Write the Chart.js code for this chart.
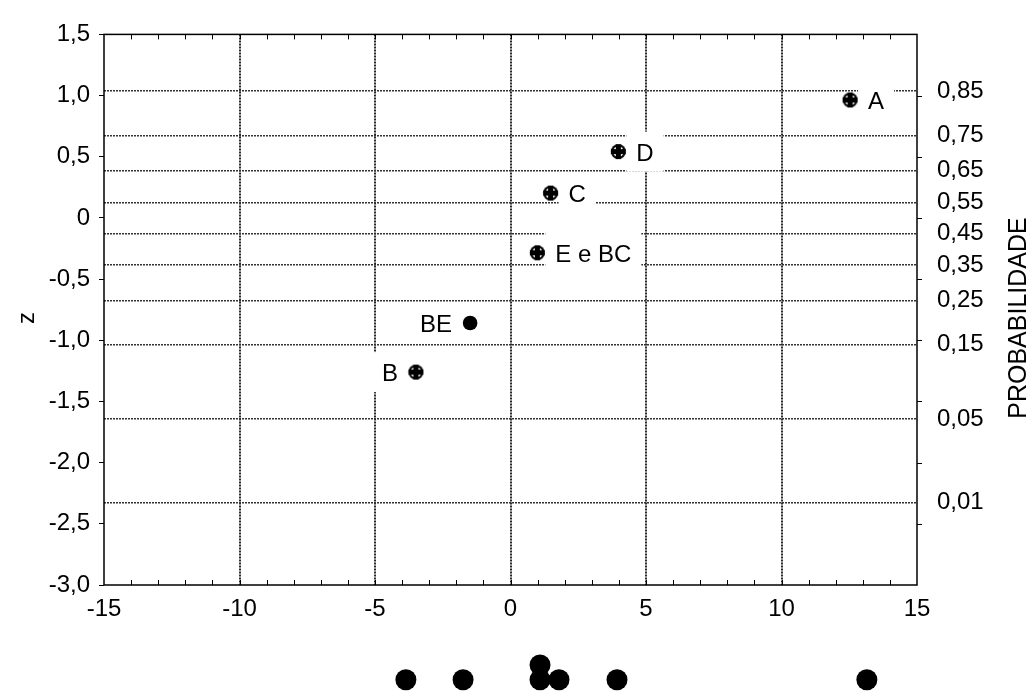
<!DOCTYPE html>
<html>
<head>
<meta charset="utf-8">
<script src="https://cdn.jsdelivr.net/npm/chart.js@4"></script>
<style>
html, body { margin: 0; padding: 0; background: #fff; overflow: hidden; }
#wrap { position: relative; width: 1031px; height: 693px; overflow: hidden; }
#main { position: absolute; left: 0; top: 0; }
#dots { position: absolute; left: 0; top: 625px; }
</style>
</head>
<body>
<div id="wrap">
  <canvas id="main" width="1031" height="693"></canvas>
  <canvas id="dots" width="1031" height="80"></canvas>
</div>
<script>
var effectNames = ['A', 'D', 'C', 'E e BC', 'BE', 'B'];
var effectX = [12.53, 3.98, 1.48, 0.99, -1.49, -3.49];
var effectZ = [0.964, 0.542, 0.203, -0.285, -0.859, -1.26];
var labelSide = ['right', 'right', 'right', 'right', 'left', 'left'];
var markerType = ['cross', 'cross', 'cross', 'cross', 'dot', 'cross'];

var xTicks = [-15, -10, -5, 0, 5, 10, 15];
var probLabels = ['0,85', '0,75', '0,65', '0,55', '0,45', '0,35', '0,25', '0,15', '0,05', '0,01'];
var probZ = [1.036, 0.674, 0.385, 0.126, -0.126, -0.385, -0.674, -1.036, -1.645, -2.326];

var dotX = [-3.86, -1.75, 1.09, 1.09, 1.79, 3.93, 13.15];
var dotLevel = [1, 1, 1, 2, 1, 1, 1];

var FONT = '"Liberation Sans", Arial, sans-serif';

// black disc with a plus inside, small white gaps in each quarter
function makeCross() {
  var c = document.createElement('canvas');
  c.width = 17;
  c.height = 17;
  var g = c.getContext('2d');
  g.fillStyle = '#000';
  g.beginPath(); g.arc(8.5, 8.5, 7.6, 0, Math.PI * 2); g.fill();
  g.fillStyle = '#fff';
  g.beginPath(); g.arc(8.5, 8.5, 5.4, 0, Math.PI * 2); g.fill();
  g.fillStyle = '#000';
  g.fillRect(1, 6, 15, 5);
  g.fillRect(6, 1, 5, 15);
  return c;
}
var crossImg = makeCross();

function fmt(v) {
  if (v === 0) return '0';
  return v.toFixed(1).replace('.', ',');
}

var decor = {
  id: 'decor',
  beforeDatasetsDraw: function (chart) {
    var ctx = chart.ctx;
    var meta = chart.getDatasetMeta(0);
    ctx.save();
    ctx.font = '24px ' + FONT;
    ctx.textBaseline = 'alphabetic';
    meta.data.forEach(function (pt, i) {
      var w = ctx.measureText(effectNames[i]).width;
      var tx = labelSide[i] === 'right' ? pt.x + 18 : pt.x - 18 - w;
      ctx.fillStyle = '#fff';
      ctx.fillRect(tx - 10, pt.y - 20, w + 20, 40);
      ctx.fillStyle = '#000';
      ctx.fillText(effectNames[i], tx, pt.y + 9);
    });
    ctx.restore();
  },
  afterDraw: function (chart) {
    var ctx = chart.ctx;
    var a = chart.chartArea;
    var xs = chart.scales.x;
    var ys = chart.scales.y;
    ctx.save();
    ctx.strokeStyle = '#000';
    ctx.lineWidth = 1.5;
    ctx.strokeRect(a.left, a.top, a.right - a.left, a.bottom - a.top);

    ctx.lineWidth = 1;
    ctx.beginPath();
    for (var v = -14; v <= 14; v++) {
      var px = Math.round(xs.getPixelForValue(v)) + 0.5;
      ctx.moveTo(px, a.bottom); ctx.lineTo(px, a.bottom - 5);
      ctx.moveTo(px, a.top); ctx.lineTo(px, a.top + 5);
    }
    for (var z = 1; z >= -2.5; z -= 0.5) {
      var py = Math.round(ys.getPixelForValue(z)) + 0.5;
      ctx.moveTo(a.right, py); ctx.lineTo(a.right + 5, py);
    }
    ctx.stroke();

    ctx.fillStyle = '#000';
    ctx.textAlign = 'center';
    ctx.textBaseline = 'middle';
    ctx.font = '24px ' + FONT;
    ctx.translate(27, 318);
    ctx.rotate(-Math.PI / 2);
    ctx.fillText('z', 0, 0);
    ctx.rotate(Math.PI / 2);
    ctx.translate(1019 - 27, 0);
    ctx.rotate(-Math.PI / 2);
    ctx.font = '25px ' + FONT;
    ctx.fillText('PROBABILIDADE', 0, 0);
    ctx.restore();
  }
};

var tickFont = { family: FONT, size: 24 };

new Chart(document.getElementById('main'), {
  type: 'scatter',
  data: {
    datasets: [{
      data: effectX.map(function (x, i) { return { x: x, y: effectZ[i] }; }),
      pointStyle: function (c) { return markerType[c.dataIndex] === 'dot' ? 'circle' : crossImg; },
      pointRadius: 7.3,
      backgroundColor: '#000',
      borderColor: '#000',
      borderWidth: 0
    }]
  },
  options: {
    responsive: false,
    animation: false,
    events: [],
    devicePixelRatio: 1,
    layout: { padding: { top: 23, left: 0, right: 0, bottom: 0 } },
    plugins: { legend: { display: false }, tooltip: { enabled: false } },
    scales: {
      x: {
        type: 'linear',
        min: -15,
        max: 15,
        afterBuildTicks: function (s) { s.ticks = xTicks.map(function (v) { return { value: v }; }); },
        afterFit: function (s) { s.height = 108; },
        ticks: { color: '#000', font: tickFont, padding: 10, maxRotation: 0 },
        grid: {
          drawTicks: false,
          lineWidth: 2,
          color: function (c) { return Math.abs(c.tick.value) === 15 ? 'rgba(0,0,0,0)' : '#2a2a2a'; }
        },
        border: { display: false, dash: [2, 1] }
      },
      y: {
        type: 'linear',
        position: 'left',
        min: -3,
        max: 1.5,
        afterFit: function (s) { s.width = 104; },
        ticks: { stepSize: 0.5, color: '#000', font: tickFont, padding: 9, callback: function (v) { return fmt(v); } },
        grid: { drawOnChartArea: false, drawTicks: true, tickLength: 5, tickColor: '#000', tickWidth: 1 },
        border: { display: false }
      },
      yR: {
        type: 'linear',
        position: 'right',
        min: -3,
        max: 1.5,
        afterBuildTicks: function (s) { s.ticks = probZ.map(function (v) { return { value: v }; }); },
        afterFit: function (s) { s.width = 114; },
        ticks: {
          color: '#000',
          font: tickFont,
          padding: 20,
          autoSkip: false,
          callback: function (v, i) { return probLabels[i]; }
        },
        grid: { drawTicks: false, lineWidth: 1.5, color: '#333' },
        border: { display: false, dash: [2, 1] }
      }
    }
  },
  plugins: [decor]
});

new Chart(document.getElementById('dots'), {
  type: 'scatter',
  data: {
    datasets: [{
      data: dotX.map(function (x, i) { return { x: x, y: dotLevel[i] }; }),
      pointRadius: 10.5,
      backgroundColor: '#000',
      borderWidth: 0,
      clip: false
    }]
  },
  options: {
    responsive: false,
    animation: false,
    events: [],
    devicePixelRatio: 1,
    layout: { padding: { top: 0, left: 104, right: 114, bottom: 0 } },
    plugins: { legend: { display: false }, tooltip: { enabled: false } },
    scales: {
      x: { type: 'linear', min: -15, max: 15, display: false },
      y: { type: 'linear', min: 0, max: 4, display: false }
    }
  }
});
</script>
</body>
</html>
